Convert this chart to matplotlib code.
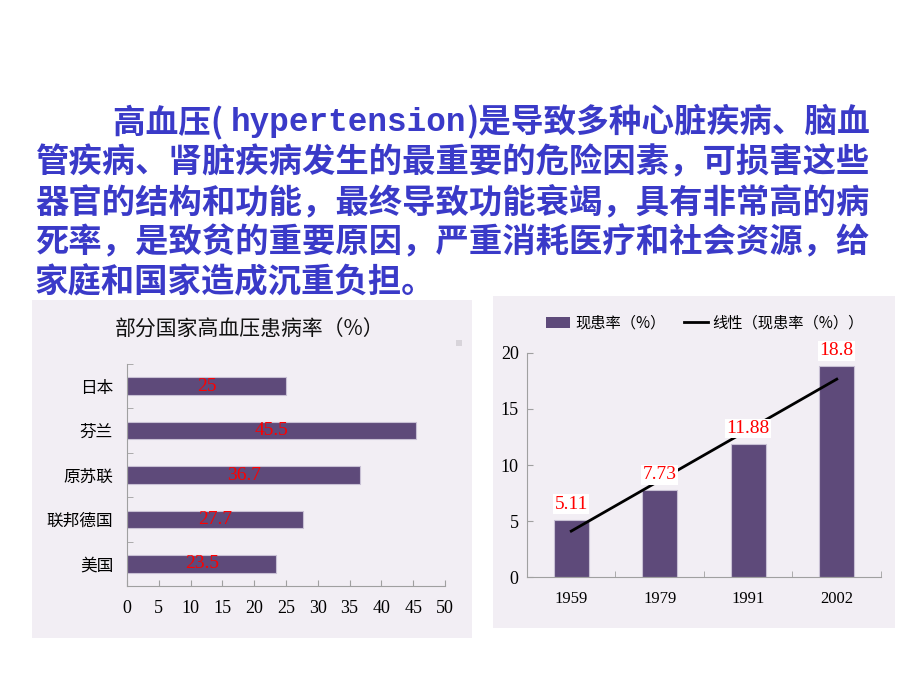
import matplotlib
matplotlib.use("Agg")
import matplotlib.pyplot as plt
from matplotlib.patches import Rectangle
from matplotlib.lines import Line2D
import numpy as np

plt.rcParams['font.family'] = ['Noto Sans CJK SC', 'DejaVu Sans']

# ---- data ----
heading_first = ["高血压( ", "hypertension", ")是导致多种心脏疾病、脑血"]
heading_lines = [
    "管疾病、肾脏疾病发生的最重要的危险因素，可损害这些",
    "器官的结构和功能，最终导致功能衰竭，具有非常高的病",
    "死率，是致贫的重要原因，严重消耗医疗和社会资源，给",
    "家庭和国家造成沉重负担。",
]
countries = ["日本", "芬兰", "原苏联", "联邦德国", "美国"]
country_rates = [25, 45.5, 36.7, 27.7, 23.5]
country_labels = ["25", "45.5", "36.7", "27.7", "23.5"]
left_title = "部分国家高血压患病率（%）"
left_xticks = [0, 5, 10, 15, 20, 25, 30, 35, 40, 45, 50]

years = ["1959", "1979", "1991", "2002"]
year_rates = [5.11, 7.73, 11.88, 18.8]
year_labels = ["5.11", "7.73", "11.88", "18.8"]
right_yticks = [0, 5, 10, 15, 20]
legend_bar = "现患率（%）"
legend_line = "线性（现患率（%））"

W, H = 920, 690
BAR = "#5E4A7A"
BG = "#F2EEF4"
BLUE = "#3A3AC8"
SERIF = ['Liberation Serif', 'Noto Sans CJK SC']

fig = plt.figure(figsize=(9.2, 6.9), dpi=100)
fig.patch.set_facecolor("white")

def fx(px):
    return px / W

def fy(py):
    return 1 - py / H

# heading text
renderer = fig.canvas.get_renderer()
x = 113
fams = [None, ['Liberation Mono', 'DejaVu Sans Mono'], None]
for piece, fam in zip(heading_first, fams):
    kw = dict(fontsize=23.5, fontweight='bold', color=BLUE, ha='left', va='center')
    if fam is not None:
        kw['family'] = fam
    t = fig.text(fx(x), fy(122), piece, **kw)
    bb = t.get_window_extent(renderer=renderer)
    x += bb.width
line_y = [163, 203, 243, 283]
for t, y in zip(heading_lines, line_y):
    fig.text(fx(35), fy(y), t, fontsize=24, fontweight='bold', color=BLUE,
             ha='left', va='center')

# panel backgrounds
fig.patches.append(Rectangle((fx(32), fy(638)), fx(472) - fx(32), fy(300) - fy(638),
                             transform=fig.transFigure, facecolor=BG, edgecolor='none', zorder=-5))
fig.patches.append(Rectangle((fx(493), fy(628)), fx(895) - fx(493), fy(296) - fy(628),
                             transform=fig.transFigure, facecolor=BG, edgecolor='none', zorder=-5))
fig.patches.append(Rectangle((fx(456), fy(346)), fx(6), fy(340) - fy(346),
                             transform=fig.transFigure, facecolor="#D8D4DA", edgecolor='none', zorder=-4))

# ---- left chart ----
ax1 = fig.add_axes([fx(127), fy(586), fx(445) - fx(127), fy(364) - fy(586)])
ax1.set_facecolor('none')
ax1.set_zorder(2)
ypos = np.arange(len(countries))
ax1.barh(ypos, country_rates, height=0.4, color=BAR, edgecolor="#C8C0D4", linewidth=0.8)
for y, v, lab in zip(ypos, country_rates, country_labels):
    ax1.text(v / 2, y, lab, color='red', fontsize=14, ha='center', va='center',
             family=SERIF)
ax1.set_xlim(0, 50)
ax1.set_ylim(len(countries) - 0.5, -0.5)
ax1.set_xticks(left_xticks)
ax1.set_xticklabels([str(v) for v in left_xticks], family=SERIF, fontsize=13)
ax1.set_yticks(ypos)
ax1.set_yticklabels(countries, fontsize=12)
ax1.set_yticks(np.arange(-0.5, len(countries), 1), minor=True)
ax1.tick_params(axis='y', which='major', length=0, pad=10)
ax1.tick_params(axis='y', which='minor', length=4, direction='in', color='#A0A0A0')
ax1.tick_params(axis='x', length=4, direction='in', color='#A0A0A0', pad=10)
for s in ['top', 'right']:
    ax1.spines[s].set_visible(False)
for s in ['left', 'bottom']:
    ax1.spines[s].set_color('#A0A0A0')
fig.text(fx(250), fy(330), left_title, fontsize=15, ha='center', va='center', color='#111111')

# ---- right chart ----
ax2 = fig.add_axes([fx(527), fy(577), fx(881) - fx(527), fy(353) - fy(577)])
ax2.set_facecolor('none')
ax2.set_zorder(2)
xpos = np.arange(len(years))
ax2.bar(xpos, year_rates, width=0.4, color=BAR, edgecolor="#C8C0D4", linewidth=0.8)
coef = np.polyfit(xpos, year_rates, 1)
ax2.plot(xpos, np.polyval(coef, xpos), color='black', linewidth=2)
for x, v, lab in zip(xpos, year_rates, year_labels):
    ax2.annotate(lab, (x, v), xytext=(0, 5), textcoords='offset points',
                 ha='center', va='bottom', color='red', fontsize=14, family=SERIF,
                 bbox=dict(facecolor='white', edgecolor='none', pad=1))
ax2.set_xlim(-0.5, len(years) - 0.5)
ax2.set_ylim(0, 20)
ax2.set_yticks(right_yticks)
ax2.set_yticklabels([str(v) for v in right_yticks], family=SERIF, fontsize=13)
ax2.set_xticks(xpos)
ax2.set_xticklabels(years, family=SERIF, fontsize=12)
ax2.set_xticks(np.arange(-0.5, len(years), 1), minor=True)
ax2.tick_params(axis='x', which='major', length=0, pad=10)
ax2.tick_params(axis='x', which='minor', length=4, direction='in', color='#A0A0A0')
ax2.tick_params(axis='y', length=4, direction='in', color='#A0A0A0', pad=6)
for s in ['top', 'right']:
    ax2.spines[s].set_visible(False)
for s in ['left', 'bottom']:
    ax2.spines[s].set_color('#A0A0A0')

handles = [Rectangle((0, 0), 1, 1, facecolor=BAR, edgecolor='none'),
           Line2D([0], [0], color='black', linewidth=2)]
fig.legend(handles, [legend_bar, legend_line], loc='center', ncol=2,
           bbox_to_anchor=(fx(705), fy(323)), frameon=False, fontsize=11,
           handlelength=1.6, handletextpad=0.3, columnspacing=1.2)

fig.savefig("out.png", dpi=100, facecolor='white')
